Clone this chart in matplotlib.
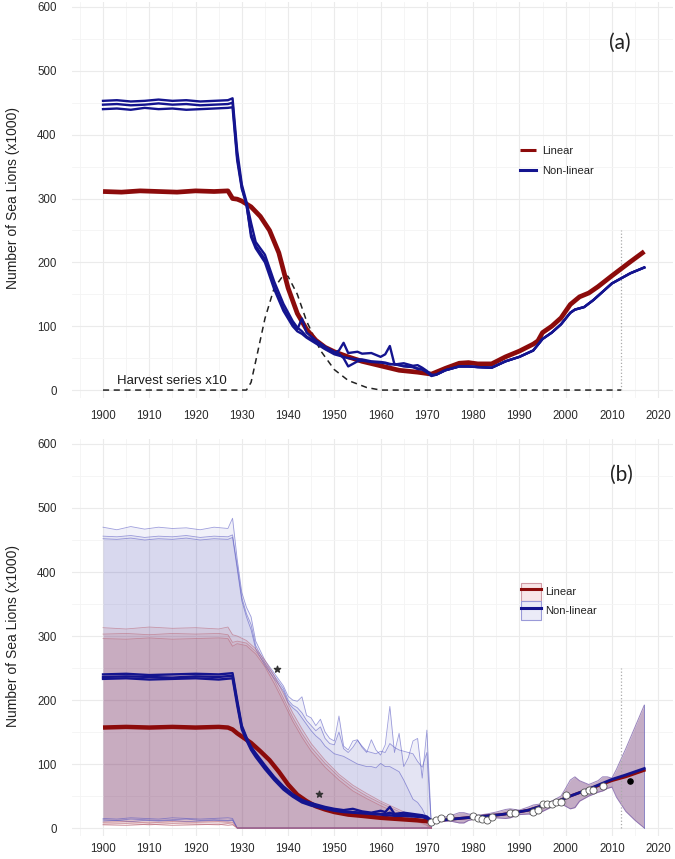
import numpy as np
import matplotlib
matplotlib.use("Agg")
import matplotlib.pyplot as plt
from matplotlib.lines import Line2D
from matplotlib.patches import Patch
from matplotlib.ticker import MultipleLocator

plt.rcParams['font.family'] = ['Liberation Sans', 'DejaVu Sans']

# ---------------- panel (a) data ----------------
red_a_yr = [1900, 1904, 1908, 1912, 1916, 1920, 1924, 1927, 1928, 1929, 1930, 1932, 1934, 1936, 1938, 1940,
            1942, 1944, 1946, 1948, 1950, 1953, 1956, 1960, 1964, 1968, 1971, 1974, 1977, 1979, 1981, 1984,
            1987, 1990, 1993, 1994, 1995, 1997, 1999, 2001, 2003, 2005, 2007, 2010, 2014, 2017]
red_a = [311, 310, 312, 311, 310, 312, 311, 312, 300, 299, 296, 287, 272, 250, 215, 160,
         120, 95, 78, 67, 60, 52, 45, 38, 31, 28, 25, 34, 42, 43, 41, 41,
         52, 61, 72, 77, 90, 100, 113, 134, 146, 152, 162, 179, 201, 217]

blue_a_early_yr = [1900, 1903, 1906, 1909, 1912, 1915, 1918, 1921, 1924, 1927,
                   1928, 1929, 1930, 1931, 1932, 1933, 1935, 1937, 1939, 1941,
                   1942, 1943, 1944, 1946, 1948, 1950, 1951, 1952, 1953, 1955,
                   1956, 1958, 1960, 1961, 1962, 1963, 1965, 1967, 1968, 1969,
                   1970, 1971]
blue_a_rep1 = [453, 454, 452, 453, 455, 453, 454, 452, 453, 454,
               457, 375, 322, 295, 262, 232, 212, 170, 135, 108,
               98, 92, 84, 75, 66, 58, 62, 74, 58, 60,
               57, 58, 52, 56, 69, 40, 42, 38, 39, 35,
               30, 24]
blue_a_rep2 = [447, 448, 446, 447, 449, 447, 448, 446, 447, 448,
               450, 365, 318, 290, 245, 226, 205, 162, 128, 104,
               95, 112, 90, 78, 68, 60, 57, 50, 37, 45,
               46, 44, 43, 42, 40, 41, 37, 36, 33, 32,
               28, 22]
blue_a_rep3 = [440, 441, 439, 442, 440, 441, 439, 440, 441, 442,
               443, 360, 315, 292, 240, 222, 200, 158, 124, 100,
               92, 88, 82, 73, 64, 56, 54, 52, 50, 48,
               48, 45, 44, 43, 41, 40, 38, 36, 34, 33,
               28, 23]
blue_a_late_yr = [1972, 1974, 1977, 1979, 1981, 1984, 1987, 1990, 1993, 1995,
                  1997, 1999, 2001, 2002, 2004, 2006, 2008, 2010, 2014, 2017]
blue_a_late = [24, 31, 37, 37, 36, 35, 45, 52, 62, 80,
               90, 103, 121, 126, 130, 141, 154, 167, 183, 192]

harvest_yr = [1900, 1931, 1932, 1933, 1935, 1937, 1939, 1940, 1942, 1944, 1947, 1950, 1953, 1957, 1960, 2012]
harvest = [0, 0, 12, 45, 112, 160, 180, 178, 150, 108, 62, 32, 15, 4, 0, 0]

# ---------------- panel (b) data ----------------
# linear (red) credible bands, three replicates
r_band_yr = [1900, 1905, 1910, 1915, 1920, 1925, 1927, 1928, 1929, 1931, 1933, 1935, 1937, 1939,
             1941, 1943, 1945, 1948, 1951, 1954, 1957, 1960, 1963, 1966, 1968, 1970, 1971]
r_hi1 = [313, 311, 314, 312, 313, 311, 314, 302, 300, 293, 280, 262, 238, 210,
         180, 155, 132, 106, 84, 67, 54, 42, 32, 22, 15, 7, 0]
r_hi2 = [303, 304, 302, 304, 303, 304, 302, 290, 292, 289, 276, 257, 232, 203,
         173, 148, 126, 101, 80, 63, 50, 39, 29, 19, 12, 5, 0]
r_hi3 = [296, 295, 297, 295, 296, 297, 296, 284, 288, 285, 272, 252, 226, 197,
         167, 142, 120, 95, 75, 58, 46, 35, 25, 16, 10, 4, 0]
r_lo1 = [9, 10, 8, 10, 9, 10, 9, 9] + [0] * 19
r_lo2 = [6, 7, 5, 7, 6, 5, 7, 6] + [0] * 19
r_lo3 = [5, 4, 6, 4, 5, 6, 4, 5] + [0] * 19

# non-linear (blue) credible bands, three replicates
b_band_yr = [1900, 1903, 1906, 1909, 1912, 1915, 1918, 1921, 1924, 1927,
             1928, 1929, 1930, 1931, 1932, 1933, 1935,
             1937, 1939, 1940, 1941, 1942, 1943, 1944, 1945, 1946, 1947,
             1948, 1949, 1950, 1951, 1952, 1953, 1954, 1955, 1956, 1957,
             1958, 1959, 1960, 1961, 1962, 1963, 1964, 1965, 1966, 1967,
             1968, 1969, 1970, 1971]
b_hi1 = [470, 466, 471, 467, 470, 468, 469, 466, 470, 468,
         484, 420, 368, 345, 330, 292, 262,
         242, 222, 206, 200, 198, 205, 176, 172, 160, 170,
         150, 140, 136, 175, 128, 122, 136, 138, 126, 118,
         138, 122, 114, 130, 190, 118, 148, 96, 110, 136,
         140, 78, 153, 0]
b_hi2 = [456, 455, 457, 454, 456, 455, 457, 454, 456, 455,
         458, 410, 360, 335, 318, 285, 258,
         238, 218, 200, 192, 188, 180, 168, 160, 152, 158,
         140, 132, 130, 150, 124, 118, 126, 137, 128, 120,
         118, 116, 120, 118, 132, 126, 122, 120, 118, 116,
         104, 95, 118, 0]
b_hi3 = [452, 451, 453, 450, 452, 451, 453, 450, 452, 451,
         454, 405, 355, 330, 310, 280, 254,
         234, 214, 196, 188, 182, 172, 162, 152, 144, 138,
         128, 122, 116, 114, 112, 108, 104, 100, 98, 96,
         96, 94, 101, 96, 96, 92, 88, 75, 60, 45,
         40, 30, 15, 0]
b_lo1 = [15, 14, 16, 15, 14, 16, 15, 14, 15, 16, 15] + [0] * 40
b_lo2 = [13, 12, 14, 13, 12, 13, 14, 12, 13, 12, 13] + [0] * 40
b_lo3 = [11, 12, 10, 12, 11, 12, 10, 11, 12, 11, 12] + [0] * 40

# median trajectories
b_med_yr = [1900, 1905, 1910, 1915, 1920, 1925, 1928, 1929, 1930, 1931, 1932, 1933, 1935, 1937, 1939,
            1941, 1943, 1945, 1948, 1950, 1952, 1954, 1956, 1958, 1960, 1961, 1962, 1963, 1965, 1967,
            1969, 1970, 1971]
b_med1 = [240, 241, 239, 240, 241, 240, 242, 200, 160, 142, 127, 117, 98, 80, 65,
          53, 44, 39, 33, 30, 28, 30, 26, 24, 27, 25, 33, 22, 24, 22,
          20, 18, 12]
b_med2 = [236, 237, 236, 235, 237, 236, 238, 196, 157, 140, 125, 114, 95, 78, 62,
          51, 42, 37, 31, 28, 26, 25, 24, 23, 22, 22, 24, 21, 21, 20,
          19, 16, 11]
b_med3 = [233, 234, 232, 233, 234, 232, 234, 192, 154, 137, 122, 111, 92, 75, 60,
          49, 40, 35, 30, 27, 25, 24, 23, 22, 21, 20, 20, 19, 19, 18,
          17, 15, 10]
r_med_yr = [1900, 1905, 1910, 1915, 1920, 1925, 1927, 1928, 1929, 1930, 1932, 1934, 1936, 1938, 1940,
            1942, 1944, 1946, 1948, 1950, 1953, 1956, 1960, 1964, 1968, 1971]
r_med = [157, 158, 157, 158, 157, 158, 157, 154, 148, 143, 133, 120, 106, 88, 68,
         52, 42, 34, 29, 25, 21, 19, 16, 14, 12, 10]

# fitted period after 1971
fit_yr = [1971, 1974, 1977, 1980, 1983, 1986, 1989, 1992, 1995, 1998, 2001, 2004, 2007, 2010, 2013, 2017]
fit_blue = [10, 13, 15, 17, 19, 21, 24, 28, 35, 41, 50, 58, 67, 76, 83, 93]
fit_red = [10, 13, 15, 17, 19, 21, 24, 28, 35, 41, 50, 58, 66, 74, 80, 90]
fit_band_yr = [1971, 1973, 1975, 1977, 1978, 1979, 1981, 1983, 1985, 1987,
               1988, 1990, 1992, 1993, 1995, 1997, 1999, 2000, 2001, 2002,
               2003, 2005, 2007, 2008, 2009, 2010, 2011, 2013, 2015, 2017]
fit_hi = [12, 16, 19, 24, 24, 22, 20, 22, 25, 29,
          30, 28, 33, 36, 38, 42, 50, 62, 75, 80,
          74, 68, 74, 80, 80, 78, 92, 124, 158, 192]
fit_lo = [8, 10, 11, 8, 8, 12, 15, 16, 16, 15,
          16, 21, 22, 20, 26, 33, 38, 34, 30, 32,
          42, 50, 56, 58, 62, 64, 48, 26, 12, 0]

obs_yr = [1971, 1972, 1973, 1975, 1980, 1981, 1982, 1983, 1984, 1988, 1989, 1993, 1994,
          1995, 1996, 1997, 1998, 1999, 2000, 2004, 2005, 2006, 2008]
obs = [10, 12, 15, 18, 19, 15, 14, 12, 17, 23, 23, 25, 28,
       37, 38, 38, 41, 41, 51, 57, 59, 59, 65]
star_yr = [1937.7, 1946.6]
star_val = [248, 53]
new_yr = [2014]
new_val = [73]
last_obs_year = 2012

RED = '#8c0b0b'
BLUE = '#14148f'


def style(ax, xpad):
    ax.set_xlim(1893.3, 2023.2)
    ax.set_ylim(-12, 608)
    ax.set_xticks(range(1900, 2021, 10))
    ax.set_yticks(range(0, 601, 100))
    ax.xaxis.set_minor_locator(MultipleLocator(5))
    ax.yaxis.set_minor_locator(MultipleLocator(50))
    ax.grid(which='major', color='#ebebeb', lw=0.8)
    ax.grid(which='minor', color='#f4f4f4', lw=0.6)
    ax.set_axisbelow(True)
    for s in ax.spines.values():
        s.set_visible(False)
    ax.tick_params(which='both', length=0, labelsize=8.3, colors='#2a2a2a')
    ax.tick_params(axis='y', pad=11)
    ax.tick_params(axis='x', pad=xpad)


fig = plt.figure(figsize=(6.75, 8.59), dpi=100)
ax1 = fig.add_axes([0.1067, 0.537, 0.8903, 0.4608])
ax2 = fig.add_axes([0.1067, 0.0271, 0.8903, 0.462])
style(ax1, 9)
style(ax2, 5)

# ---------- (a) ----------
ax1.plot(harvest_yr, harvest, color='#222222', lw=1.1, ls=(0, (4, 3)))
ax1.text(1903, 9, 'Harvest series x10', fontsize=9.5, color='#1a1a1a')
ax1.plot([last_obs_year, last_obs_year], [0, 250], color='#aaaaaa', lw=0.9, ls=':')
ax1.plot(red_a_yr, red_a, color=RED, lw=3.4, solid_capstyle='butt', label='Linear')
for i, rep in enumerate([blue_a_rep1, blue_a_rep2, blue_a_rep3]):
    ax1.plot(blue_a_early_yr + blue_a_late_yr, rep + blue_a_late, color=BLUE, lw=1.7,
             label='Non-linear' if i == 0 else None)
leg1 = ax1.legend(loc='upper left', bbox_to_anchor=(514 / 675, 1 - 140 / 859),
                  bbox_transform=fig.transFigure, frameon=False, fontsize=8,
                  handlelength=1.5, handletextpad=0.5, labelspacing=0.9, borderpad=0)
for t in leg1.get_texts():
    t.set_color('#222222')
for l in leg1.get_lines():
    l.set_linewidth(2.2)
fig.text(620 / 675, 1 - 43 / 859, '(a)', fontsize=15, family=['Lato', 'DejaVu Sans'],
         ha='center', va='center', color='#222222')

# ---------- (b) ----------
BFILL = '#4040b0'
RFILL = '#a03040'
for hi, lo in [(b_hi1, b_lo1), (b_hi2, b_lo2), (b_hi3, b_lo3)]:
    ax2.fill_between(b_band_yr, lo, hi, color=BFILL, alpha=0.07, lw=0)
    ax2.plot(b_band_yr, hi, color='#5050c0', lw=0.6, alpha=0.55)
    ax2.plot(b_band_yr, lo, color='#5050c0', lw=0.6, alpha=0.55)
for hi, lo in [(r_hi1, r_lo1), (r_hi2, r_lo2), (r_hi3, r_lo3)]:
    ax2.fill_between(r_band_yr, lo, hi, color=RFILL, alpha=0.095, lw=0)
    ax2.plot(r_band_yr, hi, color='#b86070', lw=0.6, alpha=0.55)
    ax2.plot(r_band_yr, lo, color='#b86070', lw=0.6, alpha=0.55)

ax2.fill_between(fit_band_yr, fit_lo, fit_hi, color=BFILL, alpha=0.25, lw=0)
ax2.fill_between(fit_band_yr, fit_lo, fit_hi, color=RFILL, alpha=0.22, lw=0)
ax2.plot(fit_band_yr, fit_hi, color='#7050a0', lw=0.7, alpha=0.7)
ax2.plot(fit_band_yr, fit_lo, color='#7050a0', lw=0.7, alpha=0.7)
ax2.plot([fit_band_yr[-1], fit_band_yr[-1]], [fit_lo[-1], fit_hi[-1]], color='#7070c0', lw=0.7, alpha=0.7)
ax2.plot([last_obs_year, last_obs_year], [0, 250], color='#aaaaaa', lw=0.9, ls=':')

ax2.plot(r_med_yr, r_med, color=RED, lw=3.2, solid_capstyle='butt')
for rep in [b_med1, b_med2, b_med3]:
    ax2.plot(b_med_yr, rep, color=BLUE, lw=1.7)
ax2.plot(fit_yr, fit_red, color=RED, lw=2.0)
ax2.plot(fit_yr, fit_blue, color=BLUE, lw=2.0)

ax2.scatter(obs_yr, obs, s=26, facecolor='white', edgecolor='#555555', lw=0.6, zorder=5)
ax2.scatter(new_yr, new_val, s=14, color='black', zorder=5)
ax2.scatter(star_yr, star_val, s=22, marker='*', color='#333333', zorder=5)

red_key = (Patch(facecolor='#f8e6e8', edgecolor='#d09aa4', lw=0.8), Line2D([], [], color=RED, lw=2.2))
blue_key = (Patch(facecolor='#ebebf7', edgecolor='#9a9ad8', lw=0.8), Line2D([], [], color=BLUE, lw=2.2))
leg2 = ax2.legend([red_key, blue_key], ['Linear', 'Non-linear'], loc='upper left',
                  bbox_to_anchor=(515 / 675, 1 - 577 / 859), bbox_transform=fig.transFigure,
                  frameon=False, fontsize=8, handlelength=1.8, handleheight=2.2,
                  handletextpad=0.4, labelspacing=0.0, borderpad=0)
for t in leg2.get_texts():
    t.set_color('#222222')
fig.text(621 / 675, 1 - 475 / 859, '(b)', fontsize=15, family=['Lato', 'DejaVu Sans'],
         ha='center', va='center', color='#222222')

for yc in [198, 636]:
    fig.text(13 / 675, 1 - yc / 859, 'Number of Sea Lions (x1000)', rotation=90,
             ha='center', va='center', fontsize=10, color='#222222')

fig.savefig('out.png', dpi=100, facecolor='white')
